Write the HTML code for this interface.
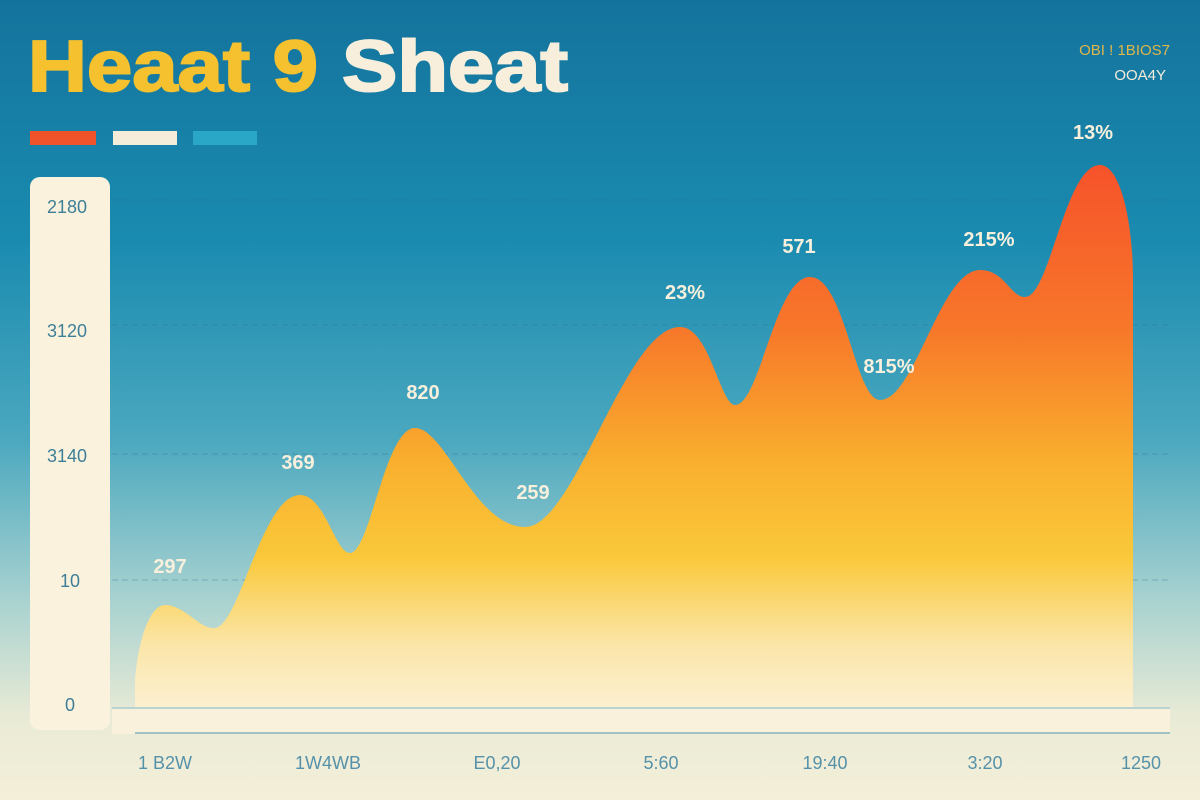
<!DOCTYPE html>
<html><head><meta charset="utf-8"><style>
html,body{margin:0;padding:0;width:1200px;height:800px;overflow:hidden}
body{font-family:"Liberation Sans",sans-serif}
</style></head><body>
<svg width="1200" height="800" viewBox="0 0 1200 800" xmlns="http://www.w3.org/2000/svg">
<defs>
<linearGradient id="bg" x1="0" y1="0" x2="0" y2="1">
<stop offset="0" stop-color="#14739c"/>
<stop offset="0.3" stop-color="#1a8bb0"/>
<stop offset="0.55" stop-color="#4ba8bf"/>
<stop offset="0.75" stop-color="#a8d2d0"/>
<stop offset="0.9" stop-color="#eaebd6"/>
<stop offset="1" stop-color="#f4efd9"/>
</linearGradient>
<linearGradient id="ar" x1="0" y1="165" x2="0" y2="710" gradientUnits="userSpaceOnUse">
<stop offset="0" stop-color="#f6522a"/>
<stop offset="0.3" stop-color="#f7772a"/>
<stop offset="0.55" stop-color="#f9b02e"/>
<stop offset="0.72" stop-color="#fac83a"/>
<stop offset="0.88" stop-color="#fbe6a8"/>
<stop offset="1" stop-color="#fcf0d2"/>
</linearGradient>
</defs>
<rect width="1200" height="800" fill="url(#bg)"/>
<g stroke="#2a6c84" stroke-opacity="0.35" stroke-dasharray="6 4" stroke-width="1">
<line x1="112" y1="200" x2="1170" y2="200"/>
<line x1="112" y1="325" x2="1170" y2="325"/>
<line x1="112" y1="454" x2="1170" y2="454"/>
<line x1="112" y1="580" x2="1170" y2="580"/>
</g>
<text x="28" y="91" font-size="72" font-weight="bold" fill="#f5c12e" textLength="290" lengthAdjust="spacingAndGlyphs" stroke="#f5c12e" stroke-width="2">Heaat 9</text>
<text x="342" y="91" font-size="72" font-weight="bold" fill="#f7efdb" textLength="226" lengthAdjust="spacingAndGlyphs" stroke="#f7efdb" stroke-width="2">Sheat</text>
<rect x="30" y="131" width="66" height="14" fill="#f0522a"/>
<rect x="113" y="131" width="64" height="14" fill="#f5ecda"/>
<rect x="193" y="131" width="64" height="14" fill="#2aa6c6"/>
<text x="1170" y="55" font-size="15" fill="#e0b64a" text-anchor="end">OBI ! 1BIOS7</text>
<text x="1166" y="80" font-size="15" fill="#f5ecda" text-anchor="end">OOA4Y</text>
<rect x="30" y="177" width="80" height="553" rx="10" fill="#fbf2dd"/>
<g font-size="18" fill="#3e7f98" text-anchor="middle">
<text x="67" y="213">2180</text>
<text x="67" y="337">3120</text>
<text x="67" y="462">3140</text>
<text x="70" y="587">10</text>
<text x="70" y="711">0</text>
</g>
<path d="M135,708 L135,680 C138,640 150,605 165,605 C185,605 200,630 215,628 C240,625 262,495 300,495 C325,495 335,553 350,553 C370,553 385,428 415,428 C445,428 475,527 525,527 C575,527 625,327 680,327 C710,327 720,405 735,405 C760,405 775,277 810,277 C845,277 855,400 880,400 C915,400 940,270 980,270 C1005,270 1010,297 1025,297 C1050,297 1065,165 1100,165 C1120,165 1133,220 1133,280 L1133,708 Z" fill="url(#ar)"/>
<rect x="112" y="708" width="1058" height="26" fill="#faf1dc"/>
<line x1="112" y1="708" x2="1170" y2="708" stroke="#b9d3d0" stroke-width="2"/>
<line x1="135" y1="733" x2="1170" y2="733" stroke="#9fc3c3" stroke-width="2"/>
<g font-size="20" fill="#f8f0dc" font-weight="bold" text-anchor="middle">
<text x="170" y="573">297</text>
<text x="298" y="469">369</text>
<text x="423" y="399">820</text>
<text x="533" y="499">259</text>
<text x="685" y="299">23%</text>
<text x="799" y="253">571</text>
<text x="889" y="373">815%</text>
<text x="989" y="246">215%</text>
<text x="1093" y="139">13%</text>
</g>
<g font-size="18" fill="#5592aa" text-anchor="middle">
<text x="165" y="769">1 B2W</text>
<text x="328" y="769">1W4WB</text>
<text x="497" y="769">E0,20</text>
<text x="661" y="769">5:60</text>
<text x="825" y="769">19:40</text>
<text x="985" y="769">3:20</text>
<text x="1141" y="769">1250</text>
</g>
</svg>
</body></html>
